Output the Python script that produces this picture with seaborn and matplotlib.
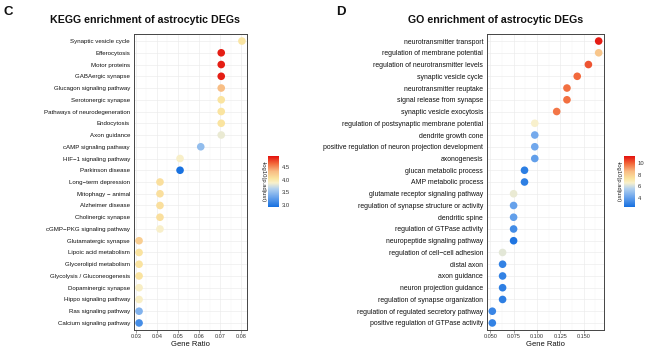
import numpy as np
import pandas as pd
import matplotlib
matplotlib.use("Agg")
import matplotlib.pyplot as plt
import seaborn as sns
from matplotlib.colors import LinearSegmentedColormap, Normalize
from matplotlib.cm import ScalarMappable
from matplotlib.ticker import MultipleLocator

# ---------------- data ----------------
kegg_terms = [
    "Synaptic vesicle cycle", "Efferocytosis", "Motor proteins", "GABAergic synapse",
    "Glucagon signaling pathway", "Serotonergic synapse", "Pathways of neurodegeneration",
    "Endocytosis", "Axon guidance", "cAMP signaling pathway", "HIF\u22121 signaling pathway",
    "Parkinson disease", "Long\u2212term depression", "Mitophagy \u2212 animal",
    "Alzheimer disease", "Cholinergic synapse", "cGMP\u2212PKG signaling pathway",
    "Glutamatergic synapse", "Lipoic acid metabolism", "Glycerolipid metabolism",
    "Glycolysis / Gluconeogenesis", "Dopaminergic synapse", "Hippo signaling pathway",
    "Ras signaling pathway", "Calcium signaling pathway",
]
kegg_ratio = [0.0803, 0.0705, 0.0705, 0.0705, 0.0705, 0.0705, 0.0705, 0.0705, 0.0705,
              0.0608, 0.0510, 0.0510, 0.0415, 0.0415, 0.0415, 0.0415, 0.0415,
              0.0316, 0.0316, 0.0316, 0.0316, 0.0316, 0.0316, 0.0316, 0.0316]
kegg_logp = [4.03, 4.90, 4.90, 4.90, 4.32, 4.05, 4.05, 4.05, 3.82,
             3.48, 3.88, 2.92, 4.08, 4.08, 4.08, 4.08, 3.87,
             4.20, 4.06, 4.06, 4.06, 3.90, 3.90, 3.40, 3.12]

go_terms = [
    "neurotransmitter transport", "regulation of membrane potential",
    "regulation of neurotransmitter levels", "synaptic vesicle cycle",
    "neurotransmitter reuptake", "signal release from synapse",
    "synaptic vesicle exocytosis", "regulation of postsynaptic membrane potential",
    "dendrite growth cone", "positive regulation of neuron projection development",
    "axonogenesis", "glucan metabolic process", "AMP metabolic process",
    "glutamate receptor signaling pathway", "regulation of synapse structure or activity",
    "dendritic spine", "regulation of GTPase activity", "neuropeptide signaling pathway",
    "regulation of cell\u2212cell adhesion", "distal axon", "axon guidance",
    "neuron projection guidance", "regulation of synapse organization",
    "regulation of regulated secretory pathway", "positive regulation of GTPase activity",
]
go_ratio = [0.166, 0.166, 0.155, 0.143, 0.132, 0.132, 0.121, 0.0975, 0.0975, 0.0975,
            0.0975, 0.0865, 0.0865, 0.0748, 0.0748, 0.0748, 0.0748, 0.0748,
            0.063, 0.063, 0.063, 0.063, 0.063, 0.052, 0.052]
go_logp = [11.0, 8.3, 10.2, 9.9, 9.8, 9.8, 9.7, 6.6, 4.4, 4.3,
           4.0, 2.95, 3.0, 6.4, 4.1, 4.0, 3.4, 2.7,
           6.3, 3.1, 3.1, 3.0, 3.0, 3.2, 3.1]

kegg_ticks = [0.03, 0.04, 0.05, 0.06, 0.07, 0.08]
kegg_ticklabels = ["0.03", "0.04", "0.05", "0.06", "0.07", "0.08"]
go_ticks = [0.05, 0.075, 0.10, 0.125, 0.15]
go_ticklabels = ["0.050", "0.075", "0.100", "0.125", "0.150"]
kegg_cb_ticks = [3.0, 3.5, 4.0, 4.5]
kegg_cb_labels = ["3.0", "3.5", "4.0", "4.5"]
go_cb_ticks = [4, 6, 8, 10]
go_cb_labels = ["4", "6", "8", "10"]

# ---------------- style ----------------
sns.set_theme(style="white")
plt.rcParams["font.family"] = ["Liberation Sans", "DejaVu Sans"]

cmap = LinearSegmentedColormap.from_list("enr", [
    (0.00, "#1670e0"), (0.20, "#6ea6ec"), (0.36, "#b4d2ee"), (0.47, "#f8f0cc"),
    (0.56, "#fae4a0"), (0.70, "#f8bc84"), (0.85, "#f26a3c"), (1.00, "#e3100e")])

W, H = 650, 349
fig = plt.figure(figsize=(W / 100, H / 100), dpi=100)


def px_axes(x0, y0, x1, y1):
    return fig.add_axes([x0 / W, 1 - y1 / H, (x1 - x0) / W, (y1 - y0) / H])


def panel(ax, terms, ratio, logp, vmin, vmax, xlim, ticks, ticklabels, minor, yfs):
    df = pd.DataFrame({"term": terms, "ratio": ratio, "logp": logp})
    sns.scatterplot(data=df, x="ratio", y="term", hue="logp", palette=cmap,
                    hue_norm=(vmin, vmax), s=30, linewidth=0, legend=False,
                    ax=ax, zorder=3)
    n = len(terms)
    ax.set_ylim(n - 1 + 0.6, -0.6)
    ax.set_xlim(*xlim)
    ax.set_xticks(ticks)
    ax.set_xticklabels(ticklabels, fontsize=4.0, color="#333333")
    ax.xaxis.set_minor_locator(MultipleLocator(minor))
    ax.set_yticks(range(n))
    ax.set_yticklabels(terms, fontsize=yfs, color="#111111")
    ax.grid(True, which="major", color="#ebebeb", lw=0.45, zorder=0)
    ax.grid(True, which="minor", axis="x", color="#f4f4f4", lw=0.35, zorder=0)
    ax.set_axisbelow(True)
    ax.tick_params(axis="y", length=1.8, width=0.4, color="#555555", pad=1)
    ax.tick_params(axis="x", length=1.8, width=0.4, color="#555555", pad=1,
                   bottom=True)
    ax.tick_params(which="minor", length=0)
    for sp in ax.spines.values():
        sp.set_color("#444444")
        sp.set_linewidth(0.7)
    ax.set_xlabel("Gene Ratio", fontsize=5.5, labelpad=1.2, color="#111111")
    ax.set_ylabel("")


def colorbar(x0, y0, x1, y1, vmin, vmax, ticks, labels, lab_x):
    cax = px_axes(x0, y0, x1, y1)
    sm = ScalarMappable(norm=Normalize(vmin, vmax), cmap=cmap)
    cb = fig.colorbar(sm, cax=cax)
    cb.outline.set_visible(False)
    cb.set_ticks(ticks)
    cb.ax.set_yticklabels(labels)
    cb.ax.tick_params(labelsize=4.2, length=2, width=0.4, color="white",
                      direction="in", pad=2, labelcolor="#333333")
    fig.text(lab_x / W, 1 - ((y0 + y1) / 2) / H, "-log10(p.adjust)", rotation=-90,
             ha="center", va="center", fontsize=4.2, color="#222222")


# Left panel (KEGG)
axL = px_axes(134, 34, 247, 330)
panel(axL, kegg_terms, kegg_ratio, kegg_logp, 2.9, 4.95, (0.0292, 0.0827),
      kegg_ticks, kegg_ticklabels, 0.005, 4.4)
colorbar(268, 156, 279, 207, 2.9, 4.95, kegg_cb_ticks, kegg_cb_labels, 263)

# Right panel (GO)
axR = px_axes(487, 34, 604, 330)
panel(axR, go_terms, go_ratio, go_logp, 2.5, 11.2, (0.0463, 0.1717),
      go_ticks, go_ticklabels, 0.0125, 4.95)
colorbar(624, 156, 635, 207, 2.5, 11.2, go_cb_ticks, go_cb_labels, 618)

# Titles and panel letters
fig.text(145 / W, 1 - 20 / H, "KEGG enrichment of astrocytic DEGs", ha="center",
         va="center", fontsize=7.7, fontweight="bold", color="#111111")
fig.text(496 / W, 1 - 20 / H, "GO enrichment of astrocytic DEGs", ha="center",
         va="center", fontsize=7.7, fontweight="bold", color="#111111")
fig.text(3 / W, 1 - 12 / H, "C", ha="left", va="center", fontsize=9.5,
         fontweight="bold", color="#111111")
fig.text(336 / W, 1 - 12 / H, "D", ha="left", va="center", fontsize=9.5,
         fontweight="bold", color="#111111")

fig.savefig("out.png", dpi=100, facecolor="white")
